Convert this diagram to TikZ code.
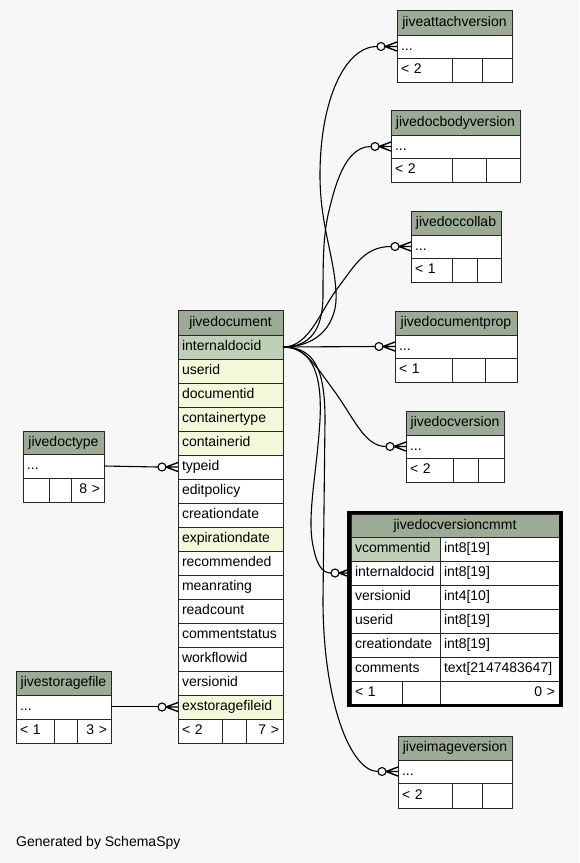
\documentclass[tikz,border=0pt]{standalone}
\usepackage{fontspec}
\setmainfont{Liberation Sans}
\definecolor{hdr}{HTML}{9BAB96}
\definecolor{pkc}{HTML}{BED1B8}
\definecolor{idx}{HTML}{F4F7DA}
\definecolor{bg}{HTML}{F7F7F7}
% cell: name, x, y, width, height, fill, align, text
\newcommand\TCell[8]{\node[cellbox,fill=#6,align=#7,text width={#4pt-8pt},minimum height=#5pt,anchor=north west] (#1) at (#2,#3) {#8};}
% header: name, x, y, width, height, text
\newcommand\THead[6]{\node[cellbox,fill=hdr,inner xsep=0pt,minimum width=#4pt,minimum height=#5pt,anchor=north west] (#1) at (#2,#3) {#6};}
% crow's foot with open circle at west side of node
\newcommand\Crow[1]{%
  \draw[line width=1.1pt,fill=bg] ([xshift=-16pt]#1.west) circle[radius=4pt];
  \draw[line width=1.4pt] ([xshift=-12pt]#1.west) -- ([yshift=4.5pt]#1.west)
    ([xshift=-12pt]#1.west) -- (#1.west)
    ([xshift=-12pt]#1.west) -- ([yshift=-4.5pt]#1.west);}
\begin{document}
\begin{tikzpicture}[x=1pt,y=-1pt,
  cellbox/.style={draw=black!85,line width=0.9pt,inner xsep=4pt,inner ysep=0pt,outer sep=0pt,
    text height=10pt,text depth=3pt,font=\fontsize{14}{16}\selectfont,text=black},
  rel/.style={line width=1.1pt,black}]
\fill[bg] (0,0) rectangle (579,863);
\useasboundingbox (0,0) rectangle (579,863);

% ---------------- jivedocument
\THead{doc}{178}{310}{105}{25}{jivedocument}
\TCell{doc-internaldocid}{178}{335}{105}{24}{pkc}{left}{internaldocid}
\TCell{doc-userid}{178}{359}{105}{24}{idx}{left}{userid}
\TCell{doc-documentid}{178}{383}{105}{24}{idx}{left}{documentid}
\TCell{doc-containertype}{178}{407}{105}{24}{idx}{left}{containertype}
\TCell{doc-containerid}{178}{431}{105}{24}{idx}{left}{containerid}
\TCell{doc-typeid}{178}{455}{105}{24}{white}{left}{typeid}
\TCell{doc-editpolicy}{178}{479}{105}{24}{white}{left}{editpolicy}
\TCell{doc-creationdate}{178}{503}{105}{24}{white}{left}{creationdate}
\TCell{doc-expirationdate}{178}{527}{105}{24}{idx}{left}{expirationdate}
\TCell{doc-recommended}{178}{551}{105}{24}{white}{left}{recommended}
\TCell{doc-meanrating}{178}{575}{105}{24}{white}{left}{meanrating}
\TCell{doc-readcount}{178}{599}{105}{24}{white}{left}{readcount}
\TCell{doc-commentstatus}{178}{623}{105}{24}{white}{left}{commentstatus}
\TCell{doc-workflowid}{178}{647}{105}{24}{white}{left}{workflowid}
\TCell{doc-versionid}{178}{671}{105}{24}{white}{left}{versionid}
\TCell{doc-exstoragefileid}{178}{695}{105}{24}{idx}{left}{exstoragefileid}
\TCell{doc-f1}{178}{719}{44}{24}{white}{left}{< 2}
\TCell{doc-f2}{222}{719}{24}{24}{white}{left}{}
\TCell{doc-f3}{246}{719}{37}{24}{white}{right}{7 >}

% ---------------- jivedoctype
\THead{dt}{23}{431}{81}{23}{jivedoctype}
\TCell{dt-dots}{23}{454}{81}{24}{white}{left}{...}
\TCell{dt-f1}{23}{478}{26}{24}{white}{left}{}
\TCell{dt-f2}{49}{478}{22}{24}{white}{left}{}
\TCell{dt-f3}{71}{478}{33}{24}{white}{right}{8 >}

% ---------------- jivestoragefile
\THead{sf}{16}{671}{95}{24}{jivestoragefile}
\TCell{sf-dots}{16}{695}{95}{24}{white}{left}{...}
\TCell{sf-f1}{16}{719}{38}{24}{white}{left}{< 1}
\TCell{sf-f2}{54}{719}{23}{24}{white}{left}{}
\TCell{sf-f3}{77}{719}{34}{24}{white}{right}{3 >}

% ---------------- jiveattachversion
\THead{av}{397}{10}{115}{25}{jiveattachversion}
\TCell{av-dots}{397}{35}{115}{23}{white}{left}{...}
\TCell{av-f1}{397}{58}{55}{24}{white}{left}{< 2}
\TCell{av-f2}{452}{58}{30}{24}{white}{left}{}
\TCell{av-f3}{482}{58}{30}{24}{white}{left}{}

% ---------------- jivedocbodyversion
\THead{bv}{391}{110}{129}{25}{jivedocbodyversion}
\TCell{bv-dots}{391}{135}{129}{23}{white}{left}{...}
\TCell{bv-f1}{391}{158}{61}{24}{white}{left}{< 2}
\TCell{bv-f2}{452}{158}{34}{24}{white}{left}{}
\TCell{bv-f3}{486}{158}{34}{24}{white}{left}{}

% ---------------- jivedoccollab
\THead{dc}{411}{211}{90}{24}{jivedoccollab}
\TCell{dc-dots}{411}{235}{90}{23}{white}{left}{...}
\TCell{dc-f1}{411}{258}{41}{24}{white}{left}{< 1}
\TCell{dc-f2}{452}{258}{25}{24}{white}{left}{}
\TCell{dc-f3}{477}{258}{24}{24}{white}{left}{}

% ---------------- jivedocumentprop
\THead{dp}{395}{311}{122}{24}{jivedocumentprop}
\TCell{dp-dots}{395}{335}{122}{23}{white}{left}{...}
\TCell{dp-f1}{395}{358}{57}{24}{white}{left}{< 1}
\TCell{dp-f2}{452}{358}{33}{24}{white}{left}{}
\TCell{dp-f3}{485}{358}{32}{24}{white}{left}{}

% ---------------- jivedocversion
\THead{dv}{406}{411}{98}{24}{jivedocversion}
\TCell{dv-dots}{406}{435}{98}{23}{white}{left}{...}
\TCell{dv-f1}{406}{458}{47}{24}{white}{left}{< 2}
\TCell{dv-f2}{453}{458}{25}{24}{white}{left}{}
\TCell{dv-f3}{478}{458}{26}{24}{white}{left}{}

% ---------------- jivedocversioncmmt
\THead{vc}{351}{514}{208}{23}{jivedocversioncmmt}
\TCell{vc-vcommentid}{351}{537}{89}{24}{pkc}{left}{vcommentid}
\TCell{vc-vcommentid-t}{440}{537}{119}{24}{white}{left}{int8[19]}
\TCell{vc-internaldocid}{351}{561}{89}{24}{white}{left}{internaldocid}
\TCell{vc-internaldocid-t}{440}{561}{119}{24}{white}{left}{int8[19]}
\TCell{vc-versionid}{351}{585}{89}{24}{white}{left}{versionid}
\TCell{vc-versionid-t}{440}{585}{119}{24}{white}{left}{int4[10]}
\TCell{vc-userid}{351}{609}{89}{24}{white}{left}{userid}
\TCell{vc-userid-t}{440}{609}{119}{24}{white}{left}{int8[19]}
\TCell{vc-creationdate}{351}{633}{89}{24}{white}{left}{creationdate}
\TCell{vc-creationdate-t}{440}{633}{119}{24}{white}{left}{int8[19]}
\TCell{vc-comments}{351}{657}{89}{24}{white}{left}{comments}
\TCell{vc-comments-t}{440}{657}{119}{24}{white}{left}{text[2147483647]}
\TCell{vc-f1}{351}{681}{51}{23}{white}{left}{< 1}
\TCell{vc-f2}{402}{681}{38}{23}{white}{left}{}
\TCell{vc-f3}{440}{681}{119}{23}{white}{right}{0 >}
\node[draw=black,line width=3.2pt,inner sep=0pt,outer sep=0pt,minimum width=212pt,minimum height=193pt] (vc-frame) at (455,609) {};

% ---------------- jiveimageversion
\THead{iv}{398}{736}{114}{24}{jiveimageversion}
\TCell{iv-dots}{398}{760}{114}{23}{white}{left}{...}
\TCell{iv-f1}{398}{783}{54}{25}{white}{left}{< 2}
\TCell{iv-f2}{452}{783}{30}{25}{white}{left}{}
\TCell{iv-f3}{482}{783}{30}{25}{white}{left}{}

% ---------------- relationships
\draw[rel] (doc-internaldocid.east) .. controls (320,347) and (338,322) .. (336,292)
  .. controls (334,255) and (320,225) .. (320,175)
  .. controls (320,100) and (345,46.5) .. ([xshift=-20pt]av-dots.west);
\Crow{av-dots}
\draw[rel] (doc-internaldocid.east) .. controls (310,347) and (323,330) .. (323,295)
  .. controls (323,250) and (324,235) .. (328,215)
  .. controls (335,185) and (345,146.5) .. ([xshift=-20pt]bv-dots.west);
\Crow{bv-dots}
\draw[rel] (doc-internaldocid.east) .. controls (310,347) and (320,310) .. (340,285)
  .. controls (355,265) and (365,246.5) .. ([xshift=-20pt]dc-dots.west);
\Crow{dc-dots}
\draw[rel] (doc-internaldocid.east) -- ([xshift=-20pt]dp-dots.west);
\Crow{dp-dots}
\draw[rel] (doc-internaldocid.east) .. controls (305,347) and (315,365) .. (335,392)
  .. controls (355,420) and (365,446.5) .. ([xshift=-20pt]dv-dots.west);
\Crow{dv-dots}
\draw[rel] (doc-internaldocid.east) .. controls (315,347) and (322,380) .. (320,420)
  .. controls (317,470) and (308,510) .. (312,540)
  .. controls (316,565) and (322,573) .. ([xshift=-20pt]vc-internaldocid.west);
\Crow{vc-internaldocid}
\draw[rel] (doc-internaldocid.east) .. controls (315,347) and (325,370) .. (325,420)
  -- (323,600) .. controls (323,700) and (350,771.5) .. ([xshift=-20pt]iv-dots.west);
\Crow{iv-dots}
\draw[rel] (dt-dots.east) -- ([xshift=-20pt]doc-typeid.west);
\Crow{doc-typeid}
\draw[rel,line width=1pt] ([yshift=0.5pt]sf-dots.east) -- ([xshift=-20pt,yshift=0.5pt]doc-exstoragefileid.west);
\Crow{doc-exstoragefileid}

\node[anchor=west,inner sep=0pt,font=\fontsize{14}{16}\selectfont] (gen) at (16,843) {Generated by SchemaSpy};
\end{tikzpicture}
\end{document}
